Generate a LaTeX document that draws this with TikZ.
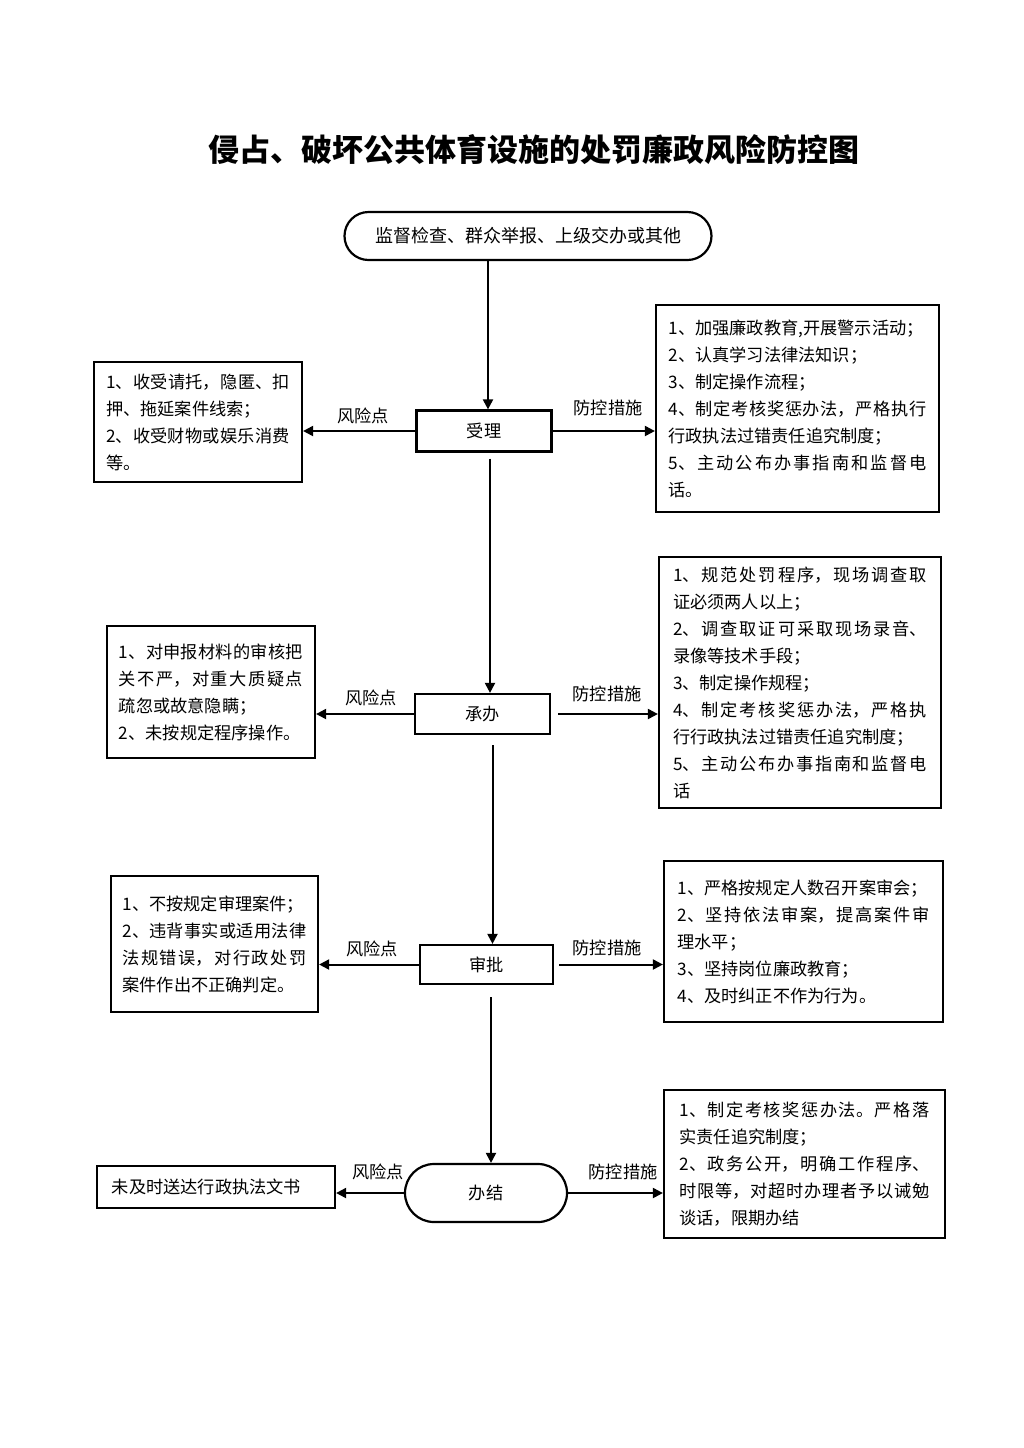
\documentclass[tikz,border=0pt]{standalone}
\usepackage{fontspec}
\setmainfont{Noto Sans CJK SC}
\usetikzlibrary{arrows.meta,shapes.misc}
\XeTeXlinebreaklocale "zh"
\XeTeXlinebreakskip=0pt plus 3pt
\XeTeXlinebreakpenalty=10000
\tikzset{
  txt/.style={font={\fontsize{8.6pt}{13.5pt}\selectfont\parindent=0pt}},
  textbox/.style={draw, line width=1.1pt, inner sep=0pt, align=justify, txt},
  procbox/.style={draw, line width=1.1pt, inner sep=0pt, txt},
  roundbox/.style={draw, line width=1.1pt, inner sep=0pt, rounded rectangle, txt},
  arr/.style={line width=1pt, -{Triangle[length=5pt,width=5pt]}},
  lbl/.style={txt, inner sep=0pt},
}
\begin{document}
\begin{tikzpicture}[x=0.5pt,y=-0.5pt]
\fill[white] (0,0) rectangle (1024,1448);
\useasboundingbox (0,0) rectangle (1024,1448);

\node (title) at (534,150) {\fontsize{15.5pt}{18pt}\selectfont\bfseries 侵占、破坏公共体育设施的处罚廉政风险防控图};

\node[roundbox, minimum width=183.5pt, minimum height=24pt, font=\fontsize{9pt}{11pt}\selectfont] (start) at (528,236) {监督检查、群众举报、上级交办或其他};

% process nodes
\node[procbox, minimum width=67.5pt, minimum height=20.5pt] (shouli) at (484,431) {受理};
\node[procbox, minimum width=67.5pt, minimum height=20pt] (chengban) at (482.5,714) {承办};
\node[procbox, minimum width=66.5pt, minimum height=19.5pt] (shenpi) at (486.5,964.5) {审批};
\node[roundbox, minimum width=81pt, minimum height=29pt] (banjie) at (486,1193) {办结};

% risk boxes (left)
\node[textbox, minimum width=104pt, minimum height=60pt, text width=92pt] (L1) at (198,422)
 {1、收受请托，隐匿、扣\linebreak 押、拖延案件线索；\par 2、收受财物或娱乐消费\linebreak 等。};
\node[textbox, minimum width=104pt, minimum height=66pt, text width=92pt] (L2) at (211,692)
 {1、对申报材料的审核把\linebreak 关不严，对重大质疑点\linebreak 疏忽或故意隐瞒；\par 2、未按规定程序操作。};
\node[textbox, minimum width=103.5pt, minimum height=68pt, text width=92pt] (L3) at (214.5,944)
 {1、不按规定审理案件；\par 2、违背事实或适用法律\linebreak 法规错误，对行政处罚\linebreak 案件作出不正确判定。};
\node[textbox, align=left, minimum width=119pt, minimum height=21pt, text width=104pt] (L4) at (216,1187)
 {未及时送达行政执法文书};

% control boxes (right)
\node[textbox, minimum width=141.5pt, minimum height=103.5pt, text width=129pt] (R1) at (797.5,408.5)
 {1、加强廉政教育,开展警示活动；\par 2、认真学习法律法知识；\par 3、制定操作流程；\par 4、制定考核奖惩办法，严格执行\linebreak 行政执法过错责任追究制度；\par 5、主动公布办事指南和监督电\linebreak 话。};
\node[textbox, minimum width=141pt, minimum height=125.5pt, text width=127pt] (R2) at (800,682.5)
 {1、规范处罚程序，现场调查取\linebreak 证必须两人以上；\par 2、调查取证可采取现场录音、\linebreak 录像等技术手段；\par 3、制定操作规程；\par 4、制定考核奖惩办法，严格执\linebreak 行行政执法过错责任追究制度；\par 5、主动公布办事指南和监督电\linebreak 话};
\node[textbox, minimum width=139.5pt, minimum height=80.5pt, text width=126pt] (R3) at (803.5,941.5)
 {1、严格按规定人数召开案审会；\par 2、坚持依法审案，提高案件审\linebreak 理水平；\par 3、坚持岗位廉政教育；\par 4、及时纠正不作为行为。};
\node[textbox, minimum width=140.5pt, minimum height=74pt, text width=125pt] (R4) at (804.5,1164)
 {1、制定考核奖惩办法。严格落\linebreak 实责任追究制度；\par 2、政务公开，明确工作程序、\linebreak 时限等，对超时办理者予以诫勉\linebreak 谈话，限期办结};

% vertical flow
\draw[arr] ([xshift=2pt]shouli.north |- start.south) -- ([xshift=2pt]shouli.north);
\draw[arr, shorten <=3pt] ([xshift=3pt]shouli.south) -- ([xshift=3pt]shouli.south |- chengban.north);
\draw[arr, shorten <=5pt] ([xshift=5pt]chengban.south) -- ([xshift=5pt]chengban.south |- shenpi.north);
\draw[arr, shorten <=6pt] ([xshift=2.25pt]shenpi.south) -- ([xshift=2.25pt]shenpi.south |- banjie.north);

% risk arrows
\draw[arr] (shouli.west) -- (shouli.west -| L1.east);
\draw[arr] (chengban.west) -- (chengban.west -| L2.east);
\draw[arr] (shenpi.west) -- (shenpi.west -| L3.east);
\draw[arr] (banjie.west) -- (banjie.west -| L4.east);

% control arrows
\draw[arr] (shouli.east) -- (shouli.east -| R1.west);
\draw[arr, shorten <=3.5pt] (chengban.east) -- (chengban.east -| R2.west);
\draw[arr, shorten <=2.5pt] (shenpi.east) -- (shenpi.east -| R3.west);
\draw[arr] (banjie.east) -- (banjie.east -| R4.west);

% labels
\node[lbl] (r1) at (363,416) {风险点};
\node[lbl] (r2) at (371,698) {风险点};
\node[lbl] (r3) at (372,949) {风险点};
\node[lbl] (r4) at (378,1172) {风险点};
\node[lbl] (c1) at (608,408) {防控措施};
\node[lbl] (c2) at (607,694) {防控措施};
\node[lbl] (c3) at (607,948) {防控措施};
\node[lbl] (c4) at (623,1172) {防控措施};
\end{tikzpicture}
\end{document}
